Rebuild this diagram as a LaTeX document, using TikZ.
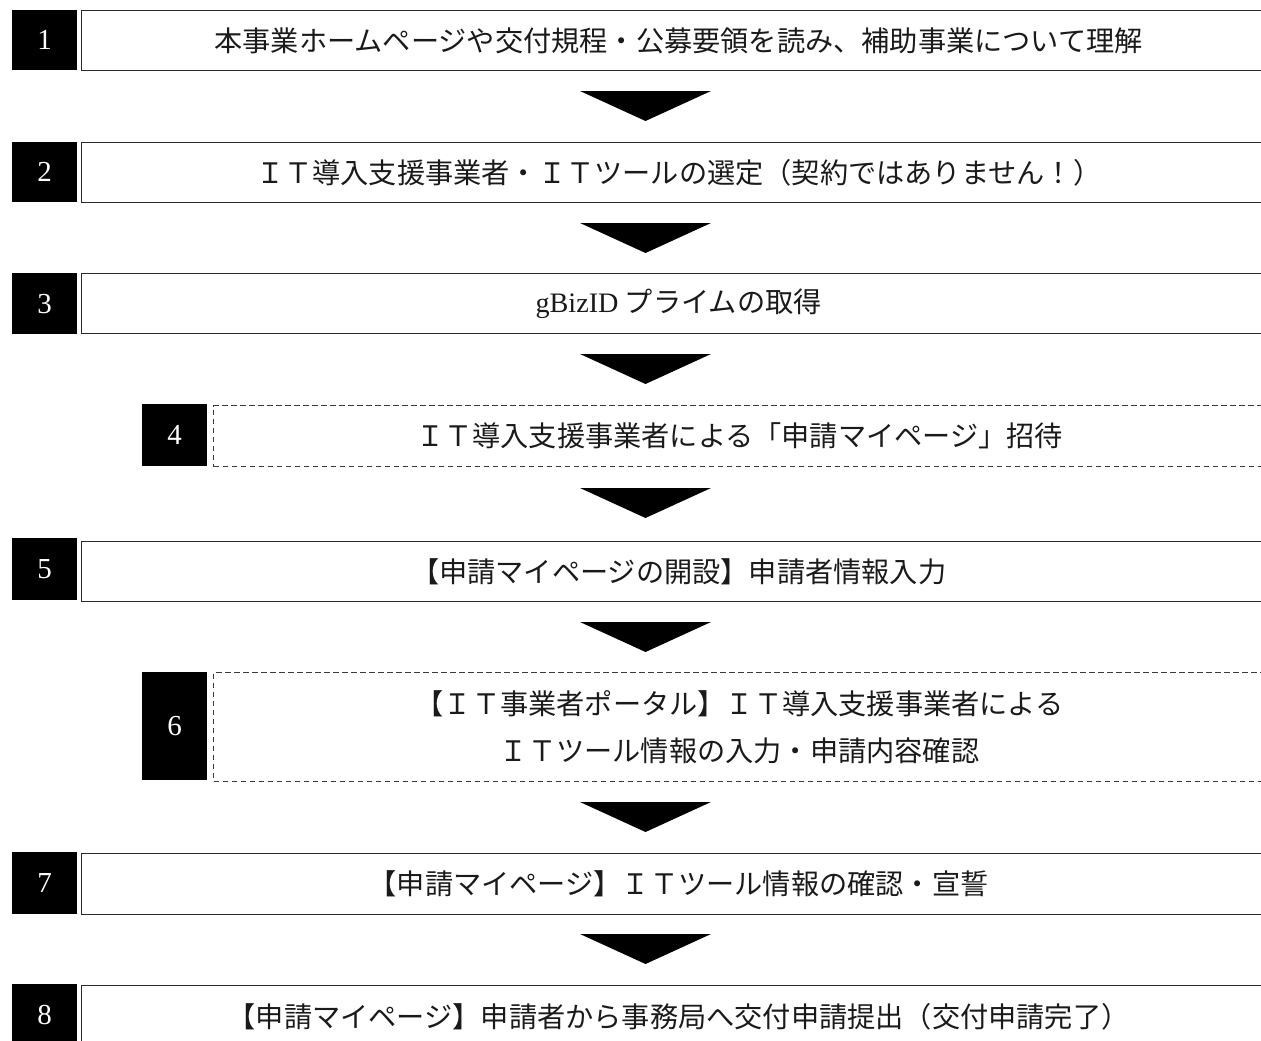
\documentclass[tikz,border=0pt]{standalone}
\usepackage{fontspec}
\newfontfamily\jp{Noto Sans CJK JP}
\newfontfamily\numserif{Liberation Serif}
\definecolor{ink}{HTML}{1A1A1A}
\definecolor{edge}{HTML}{2B2B2B}
\definecolor{dashgray}{HTML}{3A3A3A}
\begin{document}
\begin{tikzpicture}[x=1pt,y=-1pt,
  numbox/.style={fill=black,text=white,inner sep=0pt,anchor=north west,
    minimum width=65pt,font=\numserif\fontsize{29pt}{30pt}\selectfont},
  stepbox/.style={draw=edge,line width=1.3pt,inner sep=0pt,anchor=north west,
    text=ink,align=center,font=\jp\fontsize{28.2pt}{47pt}\selectfont},
  dashbox/.style={stepbox,draw=dashgray,line width=1.2pt,dash pattern=on 5.5pt off 3.5pt},
  downtri/.style={fill=black}]
\useasboundingbox (0,0) rectangle (1261,1041);
\clip (0,0) rectangle (1261,1041);
% step 1
\node[numbox,minimum height=60pt] (n1) at (12,10) {1};
\node[stepbox,minimum width=1194pt,minimum height=60pt] (b1) at (81,10)
  {本事業ホームページや交付規程・公募要領を読み、補助事業について理解};
% step 2
\node[numbox,minimum height=60pt] (n2) at (12,142) {2};
\node[stepbox,minimum width=1194pt,minimum height=60pt] (b2) at (81,142)
  {ＩＴ導入支援事業者・ＩＴツールの選定（契約ではありません！）};
% step 3
\node[numbox,minimum height=61pt] (n3) at (12,273) {3};
\node[stepbox,minimum width=1194pt,minimum height=60pt] (b3) at (81,273)
  {{\numserif gBizID} プライムの取得};
% step 4
\node[numbox,minimum height=62pt] (n4) at (142,404) {4};
\node[dashbox,minimum width=1052pt,minimum height=61pt] (b4) at (213,405)
  {ＩＴ導入支援事業者による「申請マイページ」招待};
% step 5
\node[numbox,minimum height=62pt] (n5) at (12,538) {5};
\node[stepbox,minimum width=1194pt,minimum height=60pt] (b5) at (81,541)
  {【申請マイページの開設】申請者情報入力};
% step 6
\node[numbox,minimum height=108pt] (n6) at (142,672) {6};
\node[dashbox,minimum width=1052pt,minimum height=109pt] (b6) at (213,672)
  {【ＩＴ事業者ポータル】ＩＴ導入支援事業者による\\ＩＴツール情報の入力・申請内容確認};
% step 7
\node[numbox,minimum height=62pt] (n7) at (12,852) {7};
\node[stepbox,minimum width=1194pt,minimum height=61pt] (b7) at (81,853)
  {【申請マイページ】ＩＴツール情報の確認・宣誓};
% step 8
\node[numbox,minimum height=62pt] (n8) at (12,984) {8};
\node[stepbox,minimum width=1194pt,minimum height=62pt] (b8) at (81,985)
  {【申請マイページ】申請者から事務局へ交付申請提出（交付申請完了）};
% arrows between steps
\fill[downtri] (580,91) -- (711,91) -- (645.5,121) -- cycle;
\fill[downtri] (580,223) -- (711,223) -- (645.5,253) -- cycle;
\fill[downtri] (580,354) -- (711,354) -- (645.5,384) -- cycle;
\fill[downtri] (580,488) -- (711,488) -- (645.5,518) -- cycle;
\fill[downtri] (580,622) -- (711,622) -- (645.5,652) -- cycle;
\fill[downtri] (580,802) -- (711,802) -- (645.5,832) -- cycle;
\fill[downtri] (580,934) -- (711,934) -- (645.5,964) -- cycle;
\end{tikzpicture}
\end{document}
